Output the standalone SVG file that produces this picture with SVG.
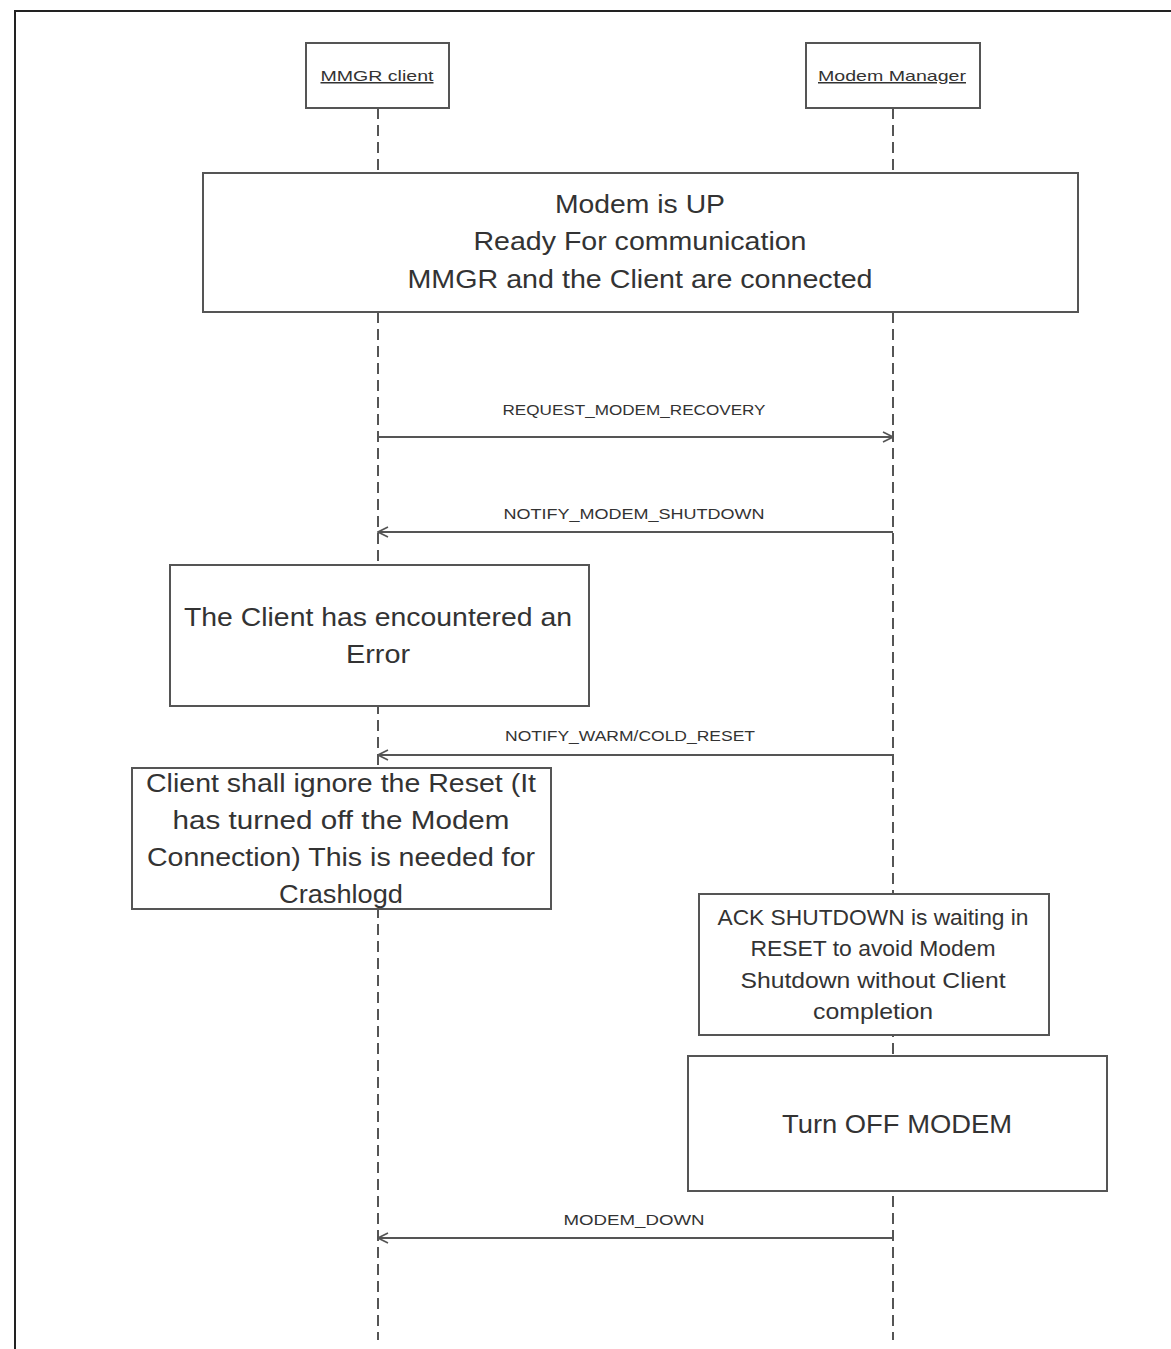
<svg xmlns="http://www.w3.org/2000/svg" width="1171" height="1349" viewBox="0 0 1171 1349">
  <style>
    .frame { fill: none; stroke: #222; stroke-width: 2; }
    .box { fill: #fff; stroke: #555; stroke-width: 2; }
    .life { stroke: #555; stroke-width: 2; stroke-dasharray: 11 6; fill: none; }
    .msg { stroke: #555; stroke-width: 2; fill: none; }
    .t { font-family: "Liberation Sans", Arial, sans-serif; fill: #333; text-anchor: middle; }
    .big { font-size: 25px; }
    .mid { font-size: 22px; }
    .lbl { font-size: 14px; }
    .hdr { font-size: 15px; text-decoration: underline; }
  </style>
  <defs>
    <marker id="open" viewBox="0 0 12 12" refX="11" refY="6" markerWidth="12" markerHeight="12" markerUnits="userSpaceOnUse" orient="auto">
      <path d="M1,1 L11,6 L1,11" fill="none" stroke="#555" stroke-width="1.6"/>
    </marker>
  </defs>
  <rect width="1171" height="1349" fill="#fff"/>
  <path class="frame" d="M15,1349 L15,11 L1171,11"/>

  <!-- lifelines and messages -->
  <g id="connectors">
    <line class="life" x1="378" y1="108" x2="378" y2="1340"/>
    <line class="life" x1="893" y1="108" x2="893" y2="1340"/>
    <line class="msg" x1="378" y1="437" x2="893" y2="437" marker-end="url(#open)"/>
    <text class="t lbl" x="634" y="415" textLength="263" lengthAdjust="spacingAndGlyphs">REQUEST_MODEM_RECOVERY</text>
    <line class="msg" x1="893" y1="532" x2="378" y2="532" marker-end="url(#open)"/>
    <text class="t lbl" x="634" y="519" textLength="261" lengthAdjust="spacingAndGlyphs">NOTIFY_MODEM_SHUTDOWN</text>
    <line class="msg" x1="893" y1="755" x2="378" y2="755" marker-end="url(#open)"/>
    <text class="t lbl" x="630" y="741" textLength="250" lengthAdjust="spacingAndGlyphs">NOTIFY_WARM/COLD_RESET</text>
    <line class="msg" x1="893" y1="1238" x2="378" y2="1238" marker-end="url(#open)"/>
    <text class="t lbl" x="634" y="1225" textLength="141" lengthAdjust="spacingAndGlyphs">MODEM_DOWN</text>
  </g>

  <g id="mmgr-client">
    <rect class="box" x="306" y="43" width="143" height="65"/>
    <text class="t hdr" x="377" y="81" textLength="113" lengthAdjust="spacingAndGlyphs">MMGR client</text>
  </g>
  <g id="modem-manager">
    <rect class="box" x="806" y="43" width="174" height="65"/>
    <text class="t hdr" x="892" y="81" textLength="148" lengthAdjust="spacingAndGlyphs">Modem Manager</text>
  </g>

  <g id="modem-up">
    <rect class="box" x="203" y="173" width="875" height="139"/>
    <text class="t big" x="640" y="213" textLength="170" lengthAdjust="spacingAndGlyphs">Modem is UP</text>
    <text class="t big" x="640" y="250" textLength="333" lengthAdjust="spacingAndGlyphs">Ready For communication</text>
    <text class="t big" x="640" y="288" textLength="465" lengthAdjust="spacingAndGlyphs">MMGR and the Client are connected</text>
  </g>

  <g id="client-error">
    <rect class="box" x="170" y="565" width="419" height="141"/>
    <text class="t big" x="378" y="626" textLength="388" lengthAdjust="spacingAndGlyphs">The Client has encountered an</text>
    <text class="t big" x="378" y="663" textLength="64" lengthAdjust="spacingAndGlyphs">Error</text>
  </g>

  <g id="ignore-reset">
    <rect class="box" x="132" y="768" width="419" height="141"/>
    <text class="t big" x="341" y="792" textLength="390" lengthAdjust="spacingAndGlyphs">Client shall ignore the Reset (It</text>
    <text class="t big" x="341" y="829" textLength="337" lengthAdjust="spacingAndGlyphs">has turned off the Modem</text>
    <text class="t big" x="341" y="866" textLength="388" lengthAdjust="spacingAndGlyphs">Connection) This is needed for</text>
    <text class="t big" x="341" y="903" textLength="124" lengthAdjust="spacingAndGlyphs">Crashlogd</text>
  </g>

  <g id="ack-shutdown">
    <rect class="box" x="699" y="894" width="350" height="141"/>
    <text class="t mid" x="873" y="925" textLength="311" lengthAdjust="spacingAndGlyphs">ACK SHUTDOWN is waiting in</text>
    <text class="t mid" x="873" y="956" textLength="245" lengthAdjust="spacingAndGlyphs">RESET to avoid Modem</text>
    <text class="t mid" x="873" y="988" textLength="265" lengthAdjust="spacingAndGlyphs">Shutdown without Client</text>
    <text class="t mid" x="873" y="1019" textLength="120" lengthAdjust="spacingAndGlyphs">completion</text>
  </g>

  <g id="turn-off">
    <rect class="box" x="688" y="1056" width="419" height="135"/>
    <text class="t big" x="897" y="1133" textLength="230" lengthAdjust="spacingAndGlyphs">Turn OFF MODEM</text>
  </g>
</svg>
